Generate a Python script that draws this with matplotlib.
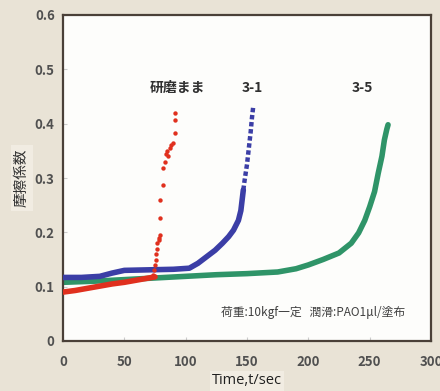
import matplotlib
matplotlib.use("Agg")
import matplotlib.pyplot as plt

plt.rcParams['font.family'] = ['Noto Sans CJK JP', 'DejaVu Sans']

# Red (研磨まま): base line then scattered rise
red_line_x = [0, 10, 20, 30, 40, 50, 60, 70, 75]
red_line_y = [0.090, 0.093, 0.097, 0.101, 0.105, 0.108, 0.112, 0.116, 0.118]
red_pts_x = [73, 74, 75, 76, 76, 77, 77, 78, 78, 79, 79, 79, 81.5, 81.5, 83, 84, 85, 86, 87, 88, 90, 91, 91, 91]
red_pts_y = [0.122, 0.13, 0.14, 0.15, 0.16, 0.17, 0.18, 0.185, 0.19, 0.195, 0.226, 0.26, 0.287, 0.318,
             0.33, 0.345, 0.35, 0.34, 0.355, 0.36, 0.365, 0.383, 0.407, 0.42]

# Blue (3-1)
blue_x = [0, 15, 30, 40, 50, 70, 90, 103, 110, 117, 124, 130, 135, 139, 143, 145, 147]
blue_y = [0.117, 0.117, 0.119, 0.125, 0.130, 0.131, 0.132, 0.134, 0.143, 0.155, 0.167, 0.180, 0.192, 0.204, 0.222, 0.240, 0.278]
blue_top_x = [147, 148, 149, 150, 151, 152, 153, 154, 155]
blue_top_y = [0.278, 0.295, 0.31, 0.325, 0.345, 0.365, 0.385, 0.41, 0.43]

# Green (3-5)
green_x = [0, 25, 50, 75, 100, 125, 150, 175, 190, 200, 212, 225, 235, 241, 246, 250, 254, 257, 260, 262, 264, 265]
green_y = [0.108, 0.110, 0.113, 0.116, 0.119, 0.122, 0.124, 0.127, 0.133, 0.140, 0.150, 0.162, 0.180, 0.199, 0.222, 0.247, 0.275, 0.309, 0.34, 0.37, 0.39, 0.398]

labels = ['研磨まま', '3-1', '3-5']
label_x = [93, 154, 244]
xticks = [0, 50, 100, 150, 200, 250, 300]
yticks = [0, 0.1, 0.2, 0.3, 0.4, 0.5, 0.6]

red = '#e0301e'
blue = '#3b3ea6'
green = '#2f9468'

fig = plt.figure(figsize=(4.4, 3.91), dpi=100)
fig.patch.set_facecolor('#e9e3d6')
ax = fig.add_axes([63/440, 1 - 341/391, (431-63)/440, (341-15)/391])
ax.set_facecolor('#fdfdfb')

ax.plot(green_x, green_y, color=green, lw=4, solid_capstyle='round', zorder=2)
ax.plot(red_line_x, red_line_y, color=red, lw=4, solid_capstyle='round', zorder=3)
ax.plot(blue_x, blue_y, color=blue, lw=4, solid_capstyle='round', zorder=4)
ax.plot(blue_top_x, blue_top_y, color=blue, lw=3.2, linestyle=(0, (1, 0.6)), zorder=4)
ax.scatter(red_pts_x, red_pts_y, s=10, color=red, zorder=5, linewidths=0)

ax.set_xlim(0, 300)
ax.set_ylim(0, 0.6)
ax.set_xticks(xticks)
ax.set_yticks(yticks)
ax.set_xticklabels([str(v) for v in xticks])
ax.set_yticklabels(['0', '0.1', '0.2', '0.3', '0.4', '0.5', '0.6'])
ax.tick_params(axis='both', direction='in', length=3, color='#cccccc', labelsize=9.5,
               labelcolor='#505050')
for lab in ax.get_xticklabels() + ax.get_yticklabels():
    lab.set_fontweight('bold')
ax.tick_params(axis='x', pad=10)
ax.tick_params(axis='y', pad=6)
for s in ax.spines.values():
    s.set_color('#4a4038')
    s.set_linewidth(1.6)

for t, x in zip(labels, label_x):
    ax.text(x, 0.453, t, ha='center', va='bottom', fontsize=10, fontweight='bold', color='#303030')

ax.text(204, 0.052, '荷重:10kgf一定   潤滑:PAO1μl/塗布', ha='center', va='center',
        fontsize=8.5, color='#404040')

fig.text(22/440, 1 - 178/391, '摩擦係数', rotation=90, ha='center', va='center', fontsize=10.5,
         color='#303030', bbox=dict(facecolor='#f1ece2', edgecolor='none', pad=3))
fig.text(247/440, 1 - 381/391, 'Time,t/sec', ha='center', va='center', fontsize=10.5,
         color='#202020', family=['Open Sans', 'DejaVu Sans'],
         bbox=dict(facecolor='#f1ece2', edgecolor='none', pad=1.5))

fig.savefig('out.png', dpi=100)
